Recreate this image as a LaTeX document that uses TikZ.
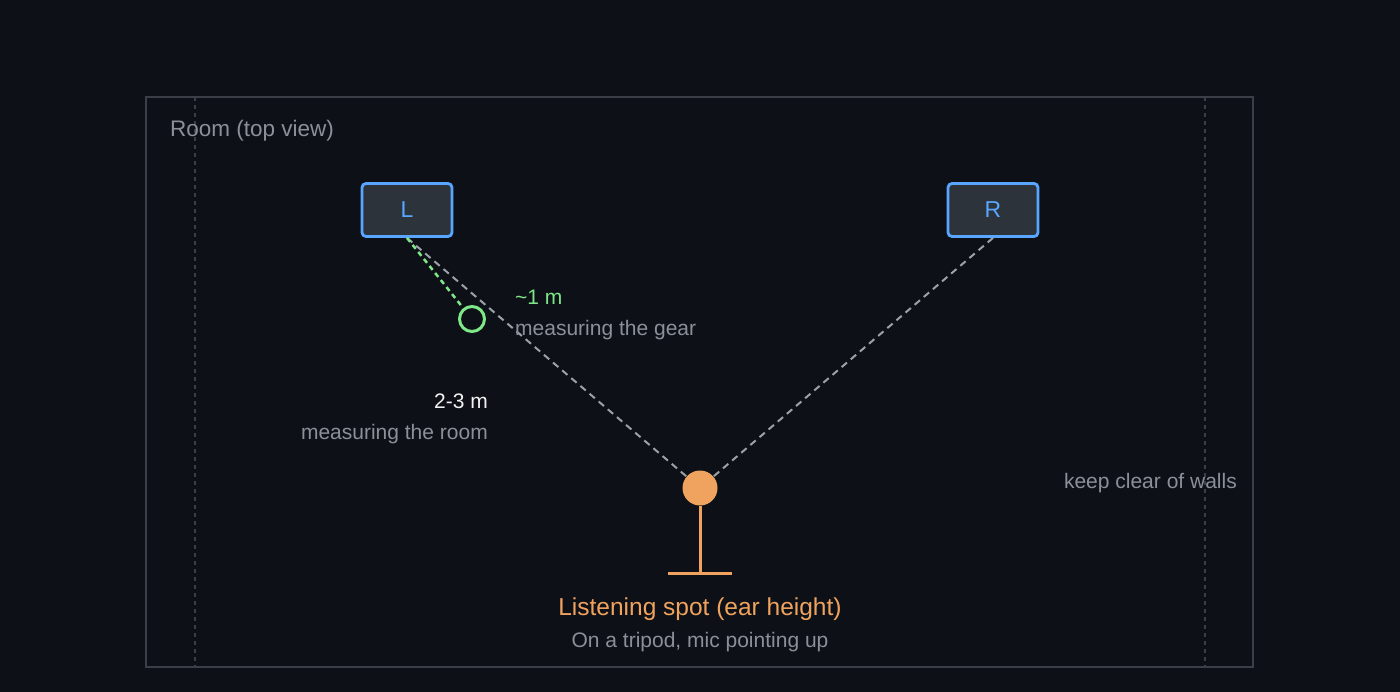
\documentclass[tikz,border=0pt]{standalone}
\usepackage{fontspec}
\setmainfont{Liberation Sans}
\begin{document}
\definecolor{bg}{HTML}{0D1017}
\definecolor{wall}{HTML}{3A3F47}
\definecolor{txtg}{HTML}{8B9098}
\definecolor{spk}{HTML}{2D333B}
\definecolor{blu}{HTML}{58A6FF}
\definecolor{org}{HTML}{F0A35E}
\definecolor{grn}{HTML}{7EE787}
\definecolor{lin}{HTML}{9BA1A8}
\begin{tikzpicture}[x=1pt,y=-1pt,
  lbl/.style={font=\fontsize{21}{24}\selectfont,inner sep=0pt,yshift=-2pt},
  speaker/.style={draw=blu,line width=2.8pt,fill=spk,rounded corners=4pt,minimum width=90pt,minimum height=53pt,text=blu,font=\fontsize{23}{24}\selectfont},
  ray/.style={lin,line width=2pt,dash pattern=on 7pt off 5pt}]
\fill[bg] (0,0) rectangle (1400,692);
\useasboundingbox (0,0) rectangle (1400,692);
\draw[wall,line width=2.5pt] (146,97) rectangle (1253,667);
\draw[wall,line width=1.6pt,dash pattern=on 4pt off 4pt] (195,97) -- (195,667);
\draw[wall,line width=1.6pt,dash pattern=on 4pt off 4pt] (1205,97) -- (1205,667);
\node[lbl,text=txtg,anchor=west,font=\fontsize{22.5}{25}\selectfont] (room) at (170,129) {Room (top view)};
\node[speaker] (L) at (407,210) {L};
\node[speaker] (R) at (993,210) {R};
\node[circle,fill=org,minimum size=35pt,inner sep=0pt] (ear) at (700,488) {};
\coordinate (foot) at (700,573);
\coordinate (bl) at (668,573);
\coordinate (br) at (732,573);
\draw[org,line width=3pt] (ear.south) -- (foot);
\draw[org,line width=3pt] (bl) -- (br);
\draw[ray] (L.south) -- (ear);
\draw[ray] (R.south) -- (ear);
\node[circle,draw=grn,line width=3pt,minimum size=25pt,inner sep=0pt] (mic) at (472,319) {};
\draw[grn,line width=2.5pt,dash pattern=on 5pt off 4pt] (L.south) -- (mic);
\node[lbl,text=grn,anchor=west] (g1) at (515,295) {\textasciitilde1 m};
\node[lbl,text=txtg,anchor=west] (g2) at (515,328) {measuring the gear};
\node[lbl,text=white!90!gray,anchor=east] (r1) at (488,399) {2-3 m};
\node[lbl,text=txtg,anchor=east] (r2) at (488,432) {measuring the room};
\node[lbl,text=txtg,anchor=east] (kc) at (1237,481) {keep clear of walls};
\node[lbl,text=org,font=\fontsize{24.5}{27}\selectfont] (ls) at (700,607) {Listening spot (ear height)};
\node[lbl,text=txtg] (tp) at (700,640) {On a tripod, mic pointing up};
\end{tikzpicture}
\end{document}
